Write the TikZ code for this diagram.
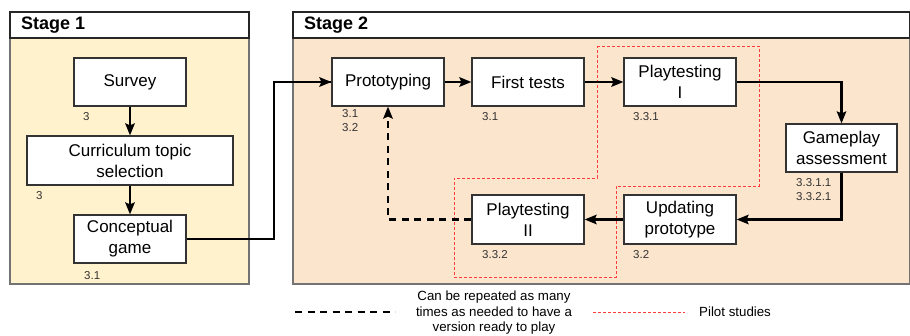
\documentclass[tikz,border=0pt]{standalone}
\usepackage{fontspec}
\setmainfont{Liberation Sans}
\usepackage{xcolor}
\usetikzlibrary{positioning,arrows.meta,calc}

\definecolor{stageone}{HTML}{FFF2CC}
\definecolor{stagetwo}{HTML}{FCE5CD}
\definecolor{pilotred}{HTML}{FF3B3B}
\definecolor{numgray}{HTML}{333333}

\begin{document}
\begin{tikzpicture}[
    x=1pt, y=-1pt,
    panel/.style={draw=black!55, line width=1.1pt},
    titlebar/.style={draw=black!85, line width=1.1pt, fill=white},
    title/.style={font=\fontsize{18}{21}\selectfont\bfseries, anchor=west, inner sep=0pt},
    task/.style={draw=black!80, line width=1.2pt, fill=white, minimum width=112pt, minimum height=48pt, align=center, inner sep=1pt, font=\fontsize{17}{21}\selectfont},
    num/.style={font=\fontsize{11.5}{14}\selectfont, text=numgray, anchor=west, align=left, inner sep=0pt},
    arrow/.style={-{Stealth[length=12pt, width=9.5pt, inset=2pt]}, line width=2.2pt},
    repeat/.style={line width=2.2pt, dash pattern=on 7pt off 5.5pt},
    pilot/.style={draw=pilotred, line width=0.9pt, dash pattern=on 3pt off 2pt},
    legend/.style={font=\fontsize{13.3}{15.5}\selectfont, align=center, inner sep=0pt}
]
\useasboundingbox (0,0) rectangle (910,336);

% Stage 1
\draw[panel, fill=stageone] (10,38) rectangle (249,284);
\draw[titlebar] (10,12) rectangle (249,38);
\node[title] (stage1) at (21,25) {Stage 1};

\node[task] (survey) at (130,82) {Survey};
\node[num] at (83,117) {3};
\node[task, minimum width=206pt, minimum height=49pt] (topic) at (130,160.5) {Curriculum topic\\selection};
\node[num] at (36,196) {3};
\node[task] (concept) at (130,239) {Conceptual\\game};
\node[num] at (84,276) {3.1};

% Stage 2
\draw[panel, fill=stagetwo] (293,38) rectangle (909.5,284);
\draw[titlebar] (293,12) rectangle (909.5,38);
\node[title] (stage2) at (304,25) {Stage 2};

% Pilot studies region
\draw[pilot] (597,46) -- (759,46) -- (759,186) -- (616,186) -- (616,277)
    -- (454,277) -- (454,178) -- (597,178) -- cycle;

\node[task] (proto) at (388,82) {Prototyping};
\node[num] at (342,121) {3.1\\3.2};
\node[task] (first) at (528,82) {First tests};
\node[num] at (482,117) {3.1};
\node[task] (play1) at (680,82) {Playtesting\\I};
\node[num] at (633,117) {3.3.1};
\node[task, minimum width=111pt] (assess) at (841.5,148) {Gameplay\\assessment};
\node[num] at (796,190) {3.3.1.1\\3.3.2.1};
\node[task, minimum height=49pt] (update) at (680,219.5) {Updating\\prototype};
\node[num] at (633,255) {3.2};
\node[task, minimum height=49pt] (play2) at (528,219.5) {Playtesting\\II};
\node[num] at (482,255) {3.3.2};

% Stage 1 arrows
\draw[arrow] (survey) -- (topic);
\draw[arrow] (topic) -- (concept);
\draw[arrow, -] (concept.east) -- ++(87,0) |- (proto.west);
\draw[arrow] ($(proto.west)+(-2,0)$) -- (proto.west);

% Stage 2 arrows
\draw[arrow] (proto) -- (first);
\draw[arrow] (first) -- (play1);
\draw[arrow] (play1.east) -| (assess.north);
\draw[arrow] (assess.south) |- (update.east);
\draw[arrow] (update) -- (play2);
\draw[arrow, dash pattern=on 7pt off 5.5pt] (play2.west) -| (proto.south);

% Legend
\coordinate (lgdash) at (295,312);
\draw[repeat] (lgdash) -- ++(100,0);
\node[legend] (lgrepeat) at (494,313) {Can be repeated as many\\times as needed to have a\\version ready to play};
\coordinate (lgpilot) at (593,312);
\draw[pilot] (lgpilot) -- ++(92,0);
\node[legend, anchor=west] (lgpilottext) at (699,312) {Pilot studies};

\end{tikzpicture}
\end{document}
